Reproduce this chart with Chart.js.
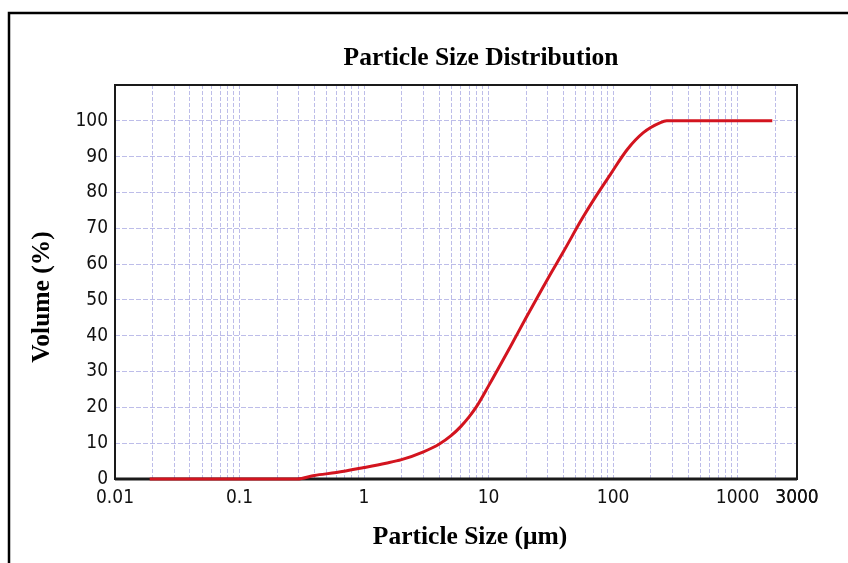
<!DOCTYPE html>
<html>
<head>
<meta charset="utf-8">
<script src="https://cdn.jsdelivr.net/npm/chart.js@4.4.1/dist/chart.umd.min.js"></script>
<style>
  html, body { margin: 0; padding: 0; background: #fff; }
  #psdChart { display: block; }
</style>
</head>
<body>
<canvas id="psdChart" width="848" height="563"></canvas>
<script>
const chartTitle = 'Particle Size Distribution';
const xAxisTitle = 'Particle Size (μm)';
const yAxisTitle = 'Volume (%)';

// particle size (µm) / cumulative volume (%)
const particleSizes = [0.019, 0.29, 0.4, 0.6, 1.0, 1.5, 2.0, 3.0, 4.0, 5.0, 6.0, 7.0, 8.0, 10, 15, 20, 30, 40, 56, 70, 95, 130, 175, 240, 270, 1900];
const cumulativeVolume = [0, 0, 1.0, 1.8, 3.2, 4.4, 5.4, 7.6, 9.7, 12.1, 14.7, 17.4, 20.2, 26, 37, 45, 56, 63.5, 72.5, 78, 85, 92, 96.7, 99.5, 100, 100];

// x axis: labelled ticks and the decades that get 1..9 grid lines
const xLabelTicks = [0.01, 0.1, 1, 10, 100, 1000, 3000];
const xDecades = [0.01, 0.1, 1, 10, 100, 1000];
const xMin = 0.01, xMax = 3000;
const yMin = 0, yMax = 110, yStep = 10;

const lineColor = '#d3141f';
const gridColor = 'rgba(135, 135, 215, 0.55)';
// weight slot carries the font-stretch keyword (condensed digits like the original)
const tickFont = { family: "'DejaVu Sans', sans-serif", weight: 'condensed', size: 19 };
const titleFont = "bold 25.5px 'Liberation Serif', 'Times New Roman', serif";

const gridTicks = [];
xDecades.forEach(d => {
    for (let m = 1; m <= 9; m++) {
        const v = parseFloat((d * m).toPrecision(6));
        if (v <= xMax) gridTicks.push(v);
    }
});
gridTicks.push(xMax);

// Rahmen, Plotrand und Titel
const framePlugin = {
    id: 'frame',
    beforeDraw(chart) {
        const ctx = chart.ctx;
        ctx.save();
        ctx.fillStyle = '#fff';
        ctx.fillRect(0, 0, chart.width, chart.height);
        ctx.strokeStyle = '#000';
        ctx.lineWidth = 2.5;
        ctx.beginPath();
        ctx.moveTo(9, chart.height);
        ctx.lineTo(9, 13);
        ctx.lineTo(chart.width, 13);
        ctx.stroke();
        ctx.restore();
    },
    beforeDatasetsDraw(chart) {
        const { ctx, chartArea: a } = chart;
        ctx.save();
        ctx.strokeStyle = '#1a1a1a';
        ctx.lineWidth = 2;
        ctx.strokeRect(a.left, a.top, a.right - a.left, a.bottom - a.top);
        ctx.lineWidth = 3;
        ctx.beginPath();
        ctx.moveTo(a.left, a.bottom);
        ctx.lineTo(a.right, a.bottom);
        ctx.stroke();
        ctx.restore();
    },
    afterDraw(chart) {
        const ctx = chart.ctx;
        ctx.save();
        ctx.fillStyle = '#000';
        ctx.font = titleFont;
        ctx.textAlign = 'center';
        ctx.textBaseline = 'middle';
        ctx.fillText(chartTitle, 481, 58);
        ctx.fillText(xAxisTitle, 470, 537);
        ctx.translate(42, 297);
        ctx.rotate(-Math.PI / 2);
        ctx.fillText(yAxisTitle, 0, 0);
        ctx.restore();
    }
};

new Chart(document.getElementById('psdChart'), {
    type: 'line',
    data: {
        datasets: [{
            label: 'Volume',
            data: particleSizes.map((s, i) => ({ x: s, y: cumulativeVolume[i] })),
            borderColor: lineColor,
            backgroundColor: lineColor,
            borderWidth: 3,
            pointRadius: 0,
            cubicInterpolationMode: 'monotone',
            clip: 4
        }]
    },
    options: {
        responsive: false,
        animation: false,
        layout: { padding: { top: 85, right: 51, left: 0, bottom: 0 } },
        plugins: {
            legend: { display: false },
            title: { display: false },
            tooltip: { enabled: false }
        },
        scales: {
            x: {
                type: 'logarithmic',
                min: xMin,
                max: xMax,
                afterBuildTicks: scale => {
                    scale.ticks = gridTicks.map(v => ({ value: v }));
                },
                afterFit: scale => { scale.height = 84; },
                ticks: {
                    autoSkip: false,
                    maxRotation: 0,
                    padding: 8,
                    color: '#111',
                    font: tickFont,
                    callback: v => {
                        const hit = xLabelTicks.find(t => Math.abs(t - v) / t < 1e-6);
                        return hit !== undefined ? String(hit) : '';
                    }
                },
                grid: { color: gridColor, lineWidth: 1, drawTicks: false },
                border: { display: false, dash: [4, 2] }
            },
            y: {
                min: yMin,
                max: yMax,
                afterFit: scale => { scale.width = 115; },
                ticks: {
                    stepSize: yStep,
                    padding: 7,
                    color: '#111',
                    font: tickFont,
                    callback: v => (v >= yMax ? '' : v)
                },
                grid: { color: gridColor, lineWidth: 1, drawTicks: false },
                border: { display: false, dash: [5, 2] }
            }
        }
    },
    plugins: [framePlugin]
});
</script>
</body>
</html>
